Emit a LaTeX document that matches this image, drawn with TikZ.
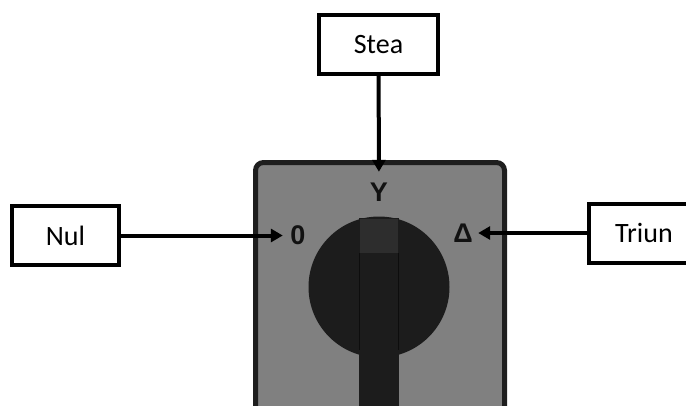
\documentclass[tikz,border=0pt]{standalone}
\usepackage{fontspec}
\setmainfont{Carlito}
\newfontfamily\panelfont{Liberation Sans}
\usetikzlibrary{arrows.meta}
\definecolor{panelgray}{HTML}{808080}
\definecolor{paneledge}{HTML}{1E1E1E}
\definecolor{knob}{HTML}{1C1C1C}
\definecolor{knobtop}{HTML}{2D2D2D}
\tikzset{
  labelbox/.style={draw=black, line width=4pt, fill=white, inner sep=0pt,
    minimum height=59pt, font=\fontsize{28}{30}\selectfont},
  poslabel/.style={inner sep=0pt, minimum width=30pt, minimum height=40pt,
    text=black!93, font=\panelfont\bfseries\fontsize{27}{29}\selectfont},
  pointer/.style={line width=4pt, -{Triangle[length=12pt,width=13pt]}},
}
\begin{document}
\begin{tikzpicture}[x=1pt,y=-1pt]
\useasboundingbox (0,0) rectangle (686,405);
\clip (0,0) rectangle (686,405);

% switch plate
\draw[line width=5pt, draw=paneledge, fill=panelgray, rounded corners=8pt]
  (255.5,162.5) rectangle (504.5,430);

% rotary knob with its handle
\fill[knob] (379,287) circle (70.5);
\fill[knob] (359,218) rectangle (399,410);
\draw[black!95!white, line width=0.6pt] (359.3,253) -- (359.3,350) (398.7,253) -- (398.7,350);
\fill[knobtop] (360,219) rectangle (398,253);

% switch positions
\node[poslabel] (ypos) at (379,192) {Y};
\node[poslabel] (zpos) at (298,235.5) {0};
\node[poslabel] (dpos) at (463,233) {Δ};

% callout boxes
\node[labelbox, minimum width=119pt] (stea) at (378.5,44.5) {Stea};
\node[labelbox, minimum width=107pt] (nul) at (65.5,235.5) {Nul};
\node[labelbox, minimum width=110pt] (triun) at (644,233) {Triun};

% pointers
\draw[pointer] (stea) -- (ypos);
\draw[pointer] (nul) -- (zpos);
\draw[pointer] (triun) -- (dpos);
\end{tikzpicture}
\end{document}
